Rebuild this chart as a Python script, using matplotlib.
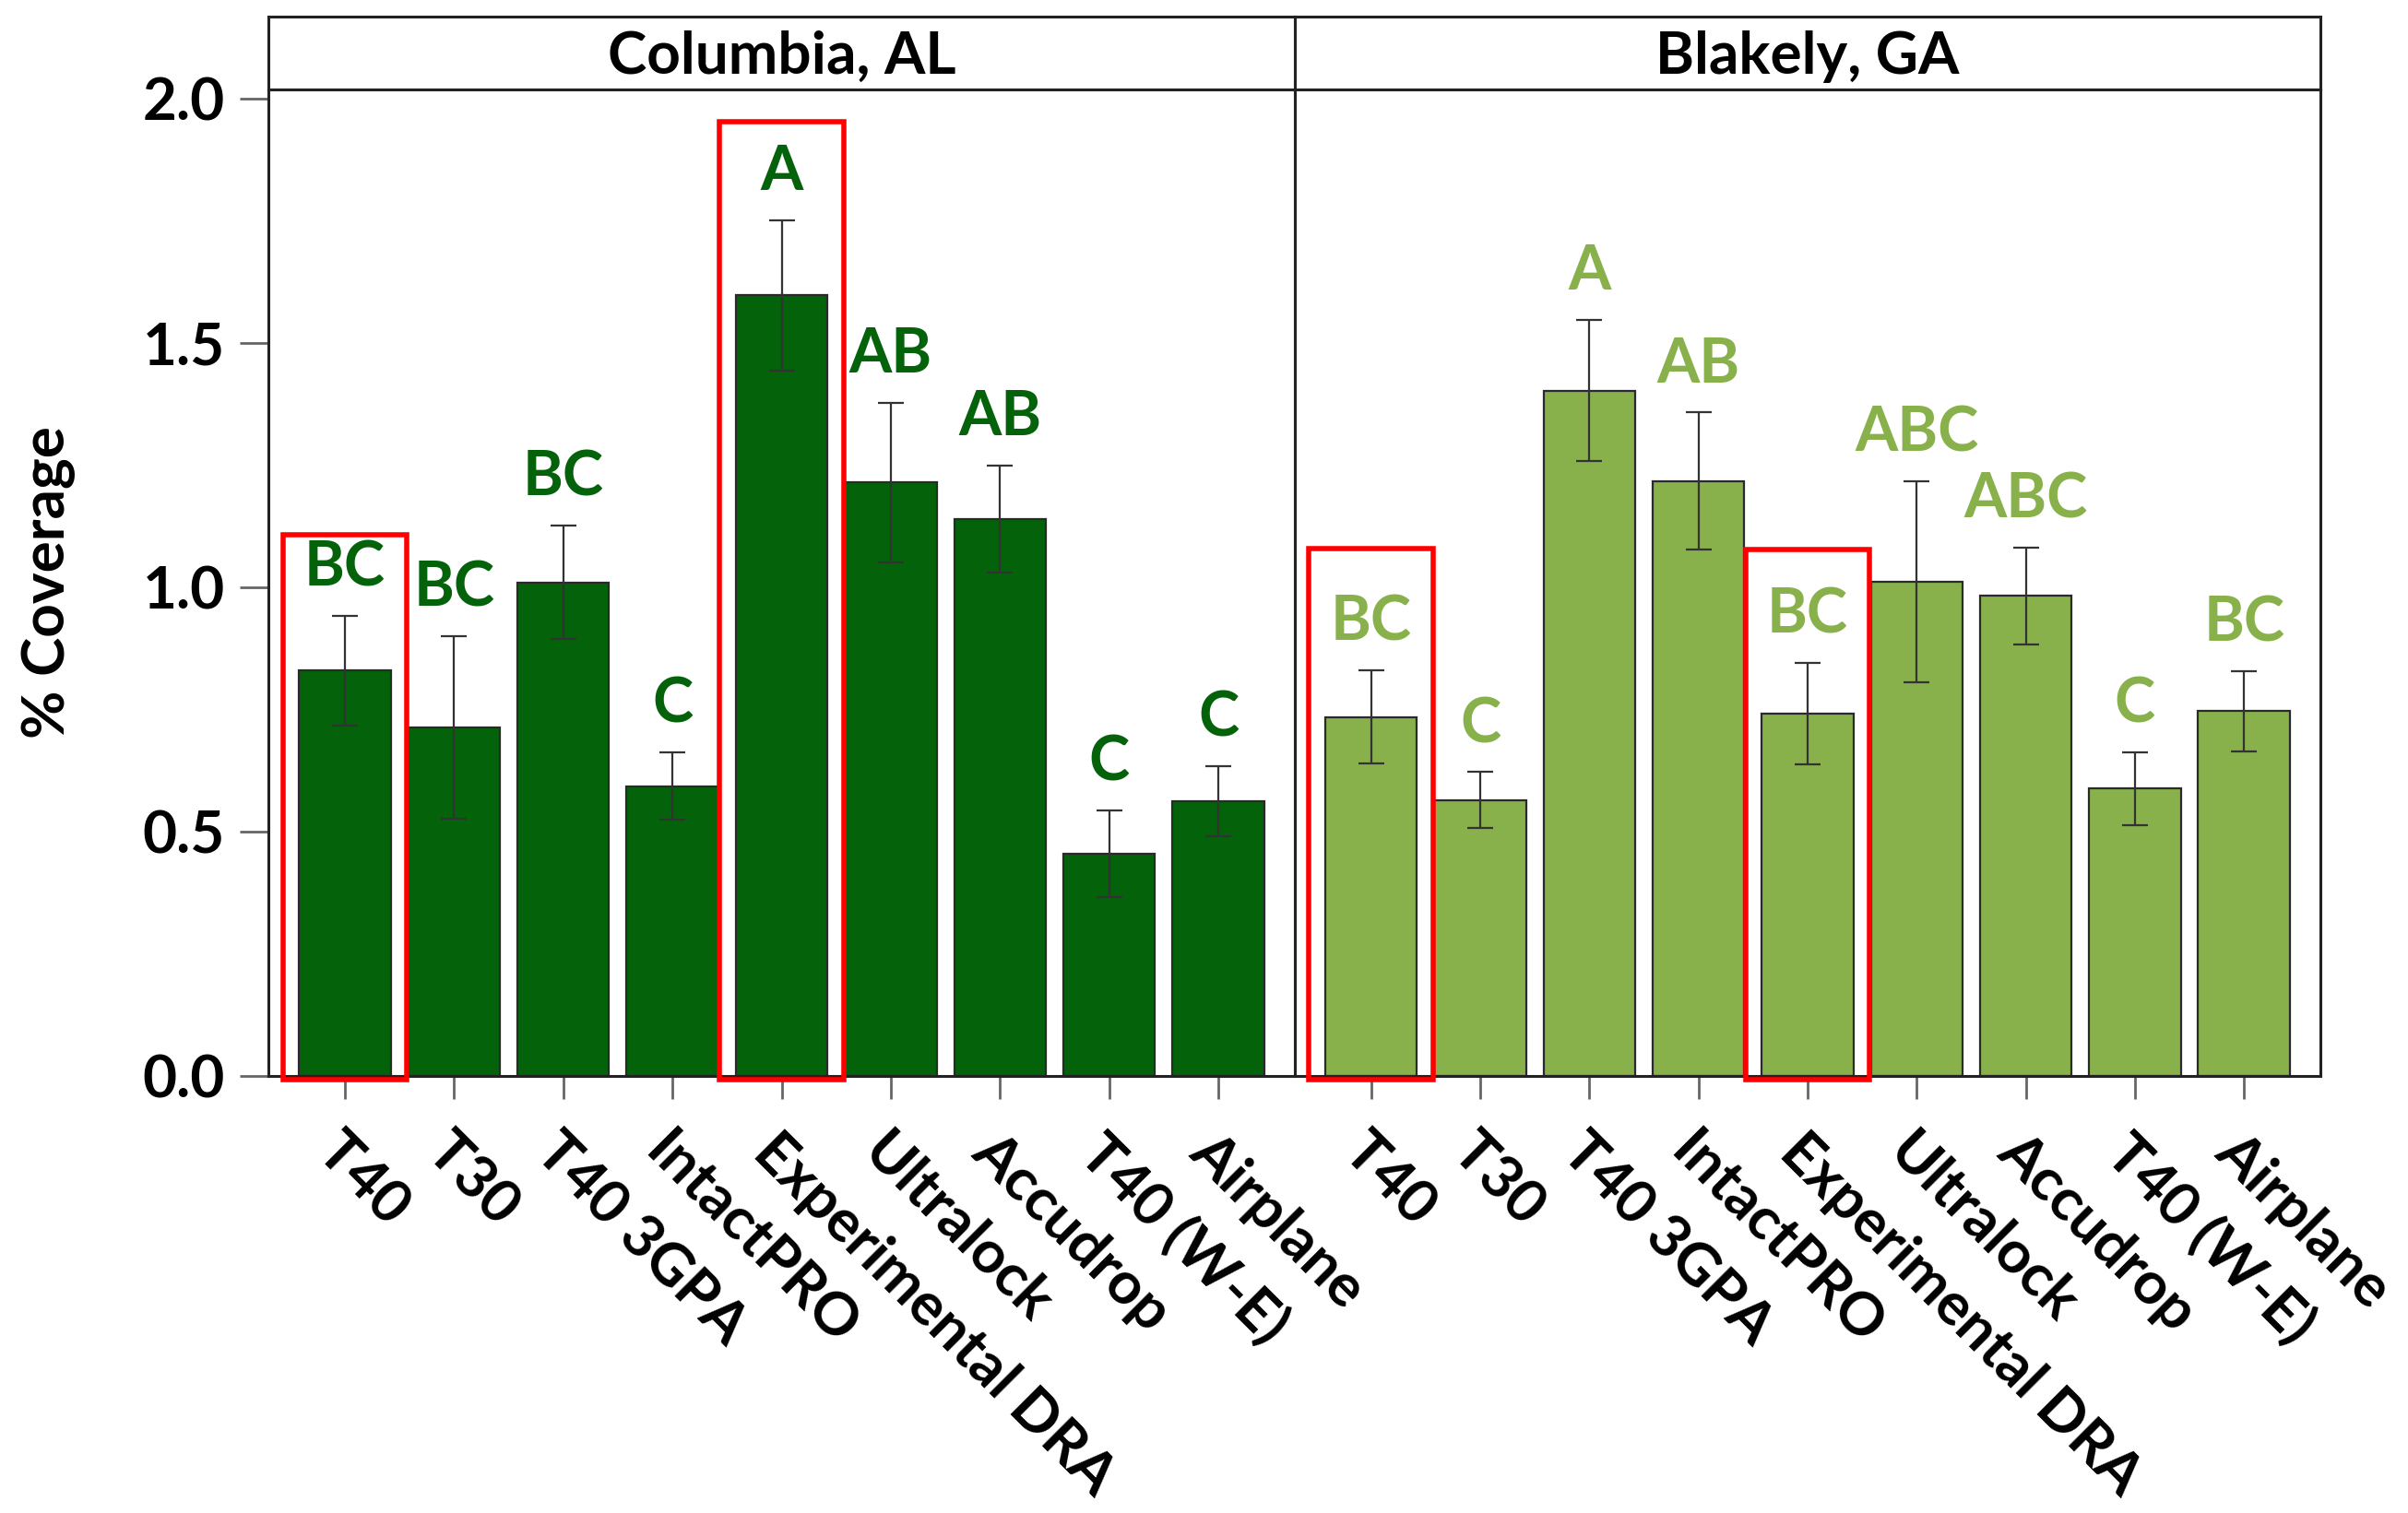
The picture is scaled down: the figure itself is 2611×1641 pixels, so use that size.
import numpy as np
import matplotlib.pyplot as plt
from matplotlib.patches import Rectangle

plt.rcParams['font.family'] = ['Lato', 'DejaVu Sans']
plt.rcParams['font.weight'] = 'bold'

# ---- data ----
treatments = ["T40", "T30", "T40 3GPA", "IntactPRO", "Experimental DRA",
              "Ultralock", "Accudrop", "T40 (W-E)", "Airplane"]
sites = ["Columbia, AL", "Blakely, GA"]

columbia_mean = [0.83, 0.713, 1.01, 0.593, 1.598, 1.215, 1.14, 0.455, 0.562]
columbia_se = [0.112, 0.187, 0.116, 0.069, 0.154, 0.163, 0.11, 0.088, 0.072]
columbia_groups = ["BC", "BC", "BC", "C", "A", "AB", "AB", "C", "C"]

blakely_mean = [0.735, 0.565, 1.403, 1.218, 0.742, 1.011, 0.983, 0.588, 0.747]
blakely_se = [0.096, 0.057, 0.145, 0.141, 0.104, 0.206, 0.099, 0.074, 0.082]
blakely_groups = ["BC", "C", "A", "AB", "BC", "ABC", "ABC", "C", "BC"]

# treatments boxed in red, with top of box (% coverage)
columbia_boxes = {"T40": 1.108, "Experimental DRA": 1.953}
blakely_boxes = {"T40": 1.08, "Experimental DRA": 1.077}

site_colors = ["#03620a", "#88b04b"]

panels = [
    (columbia_mean, columbia_se, columbia_groups, columbia_boxes),
    (blakely_mean, blakely_se, blakely_groups, blakely_boxes),
]

fig = plt.figure(figsize=(13.055, 8.205), dpi=200)

left, mid, right = 0.1115, 0.5377, 0.9636
bottom, top, strip_top = 0.2888, 0.9411, 0.9888

x = np.arange(1, len(treatments) + 1)
fs = 23

for k, (mean, se, groups, boxes) in enumerate(panels):
    x0 = left if k == 0 else mid
    w = mid - left if k == 0 else right - mid
    ax = fig.add_axes([x0, bottom, w, top - bottom])
    col = site_colors[k]

    ax.bar(x, mean, width=0.84, color=col, edgecolor="#2a2a2a", linewidth=0.8, zorder=2)
    ax.errorbar(x, mean, yerr=se, fmt="none", ecolor="#333333", elinewidth=0.8,
                capsize=5, capthick=0.8, zorder=3)

    for xi, m, s, g in zip(x, mean, se, groups):
        ax.text(xi, m + s + 0.097, g, ha="center", va="center", color=col,
                fontsize=24, fontweight="bold")

    for name, ytop in boxes.items():
        i = treatments.index(name) + 1
        ax.add_patch(Rectangle((i - 0.57, -0.007), 1.14, ytop + 0.007, fill=False,
                               edgecolor="red", linewidth=2.0, clip_on=False, zorder=4))

    ax.set_xlim(0.3, 9.7)
    ax.set_ylim(0, 2.02)
    ax.set_xticks(x)
    ax.set_xticklabels(treatments, rotation=-45, ha="left", va="top",
                       rotation_mode="anchor", fontsize=fs, fontweight="bold")
    ax.tick_params(axis="x", length=9, width=1.0, color="#666666", pad=10)
    if k == 0:
        ax.set_yticks([0.0, 0.5, 1.0, 1.5, 2.0])
        ax.set_yticklabels(["0.0", "0.5", "1.0", "1.5", "2.0"], fontsize=fs, fontweight="bold")
        ax.tick_params(axis="y", length=11, width=1.0, color="#666666", pad=6)
        ax.set_ylabel("% Coverage", fontsize=fs, fontweight="bold", labelpad=26)
    else:
        ax.set_yticks([])
    for sp in ax.spines.values():
        sp.set_linewidth(1.1)
        sp.set_color("#222222")

    # strip
    sax = fig.add_axes([x0, top, w, strip_top - top])
    sax.set_xticks([])
    sax.set_yticks([])
    for sp in sax.spines.values():
        sp.set_linewidth(1.1)
        sp.set_color("#222222")
    sax.text(0.5, 0.45, sites[k], ha="center", va="center", transform=sax.transAxes,
             fontsize=fs, fontweight="bold")

fig.savefig("out.png", dpi=200)
